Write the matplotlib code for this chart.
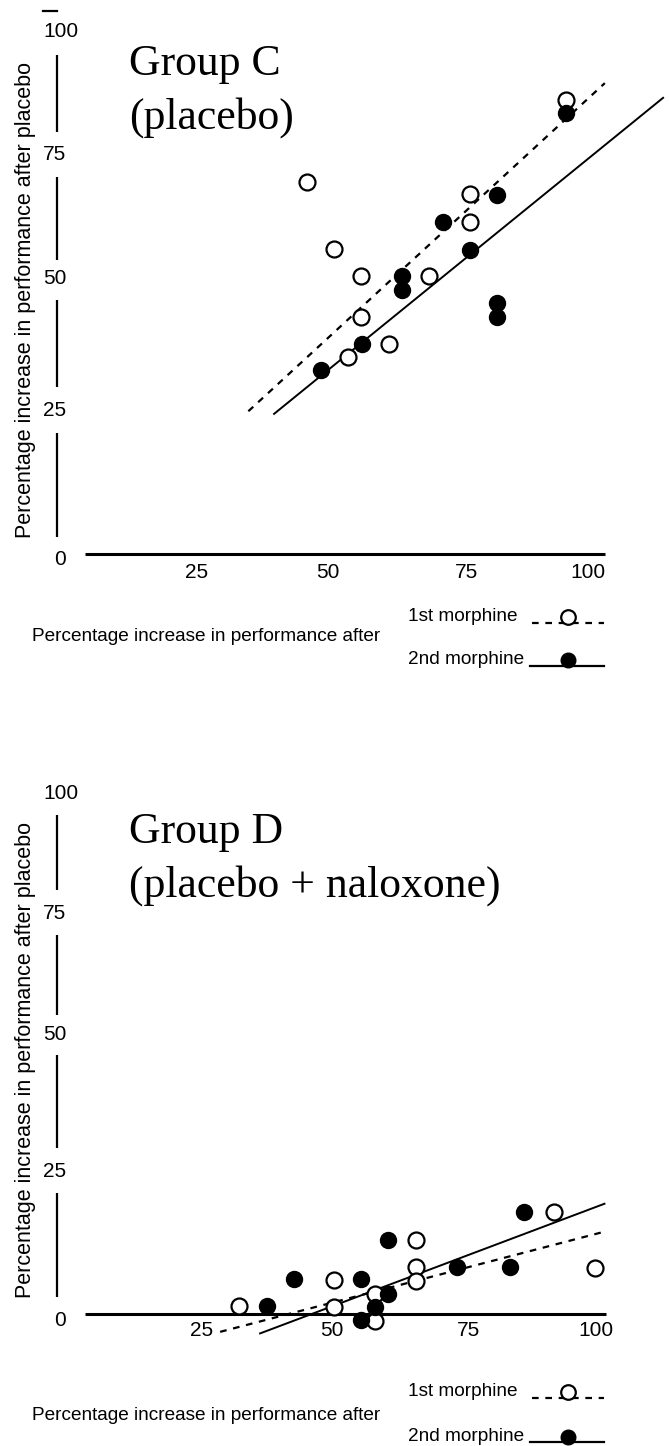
import matplotlib
matplotlib.use("Agg")
import matplotlib.pyplot as plt

# ── Data (percentage increase in performance) ─────────────────────────────────
# Group C (placebo): x = after morphine, y = after placebo
C_X_FIRST = [45.7, 51.0, 56.1, 56.1, 53.6, 61.3, 69.1, 76.8, 76.8, 95.1]
C_Y_FIRST = [70.7, 57.9, 52.8, 45.0, 37.3, 39.9, 52.8, 68.3, 63.0, 86.3]
C_X_SECOND = [48.4, 56.2, 63.9, 63.9, 71.7, 76.9, 82.0, 82.0, 82.0, 95.1]
C_Y_SECOND = [34.9, 39.8, 52.8, 50.1, 63.1, 57.8, 68.2, 47.7, 44.9, 83.8]
C_FIT_FIRST_X, C_FIT_FIRST_Y = [34.6, 102.5], [27.0, 89.5]
C_FIT_SECOND_X, C_FIT_SECOND_Y = [39.5, 113.6], [26.5, 86.7]

# Group D (placebo + naloxone)
D_X_FIRST = [32.2, 50.3, 50.3, 58.0, 58.0, 65.9, 65.9, 65.9, 92.1, 100.0]
D_Y_FIRST = [1.5, 6.5, 1.3, 3.9, -1.3, 14.1, 8.9, 6.3, 19.4, 8.8]
D_X_SECOND = [37.5, 42.7, 55.4, 58.0, 55.4, 60.6, 60.6, 73.8, 83.8, 86.5]
D_Y_SECOND = [1.5, 6.6, 6.6, 1.4, -1.1, 3.9, 14.1, 8.9, 8.9, 19.4]
D_FIT_FIRST_X, D_FIT_FIRST_Y = [28.6, 101.1], [-3.4, 15.5]
D_FIT_SECOND_X, D_FIT_SECOND_Y = [36.2, 101.8], [-3.7, 21.0]

TICKS = ["100", "75", "50", "25", "0"]
XTICKS = ["25", "50", "75", "100"]

# ── Layout (pixels) ───────────────────────────────────────────────────────────
W, H = 669, 1446
S = 5.25  # px per unit
SANS = ["Liberation Sans", "DejaVu Sans"]
SERIF = ["Liberation Serif", "DejaVu Serif"]

PANELS = [
    dict(rows=(0, 723), ox=66.7, oy=553,
         title=("Group C", "(placebo)"), title_y=(75, 128.5),
         xf=C_X_FIRST, yf=C_Y_FIRST, xs=C_X_SECOND, ys=C_Y_SECOND,
         fit1=(C_FIT_FIRST_X, C_FIT_FIRST_Y), fit2=(C_FIT_SECOND_X, C_FIT_SECOND_Y),
         tick_y=[31.7, 155, 278.3, 410, 560],
         vsegs=[(55, 131.7), (176.7, 260), (300, 386.7), (433.3, 536.7)],
         xaxis=(84.7, 605, 554), xtick_x=[196.7, 328, 466.5, 588], xtick_y=573,
         ylabel_y=300, leg_y=(616.7, 636.7, 660), dash=True),
    dict(rows=(723, 1446), ox=70, oy=1314,
         title=("Group D", "(placebo + naloxone)"), title_y=(843, 897),
         xf=D_X_FIRST, yf=D_Y_FIRST, xs=D_X_SECOND, ys=D_Y_SECOND,
         fit1=(D_FIT_FIRST_X, D_FIT_FIRST_Y), fit2=(D_FIT_SECOND_X, D_FIT_SECOND_Y),
         tick_y=[793.3, 913.3, 1035, 1171.7, 1320],
         vsegs=[(815, 890), (935, 1015), (1055, 1148), (1193, 1296.7)],
         xaxis=(85, 605.7, 1314), xtick_x=[202, 331.7, 468.3, 595.7], xtick_y=1331,
         ylabel_y=1060, leg_y=(1391.7, 1415, 1436.7), dash=False),
]

fig = plt.figure(figsize=(W / 100, H / 100), dpi=100)
fig.patch.set_facecolor("white")


def fx(px):
    return px / W


def fy(py):
    return 1 - py / H


for p in PANELS:
    r0, r1 = p["rows"]
    ax = fig.add_axes([0, 1 - r1 / H, 1, (r1 - r0) / H])
    ox, oy = p["ox"], p["oy"]
    ax.set_xlim(-ox / S, (W - ox) / S)
    ax.set_ylim((oy - r1) / S, (oy - r0) / S)
    ax.axis("off")

    dx = lambda px: (px - ox) / S
    dy = lambda py: (oy - py) / S

    # axes drawn by hand: broken y axis, plain x axis
    for a, b in p["vsegs"]:
        ax.plot([dx(57), dx(57)], [dy(a), dy(b)], color="black", lw=1.6,
                solid_capstyle="butt")
    if p["dash"]:
        ax.plot([dx(42.7), dx(57.3)], [dy(11), dy(11)], color="black", lw=1.6)
    x0, x1, yax = p["xaxis"]
    ax.plot([dx(x0), dx(x1)], [dy(yax), dy(yax)], color="black", lw=2.2,
            solid_capstyle="butt")

    # fitted lines and points
    ax.plot(*p["fit1"], color="black", lw=1.6, ls=(0, (3, 3)))
    ax.plot(*p["fit2"], color="black", lw=1.4)
    ax.plot(p["xf"], p["yf"], "o", ms=11.5, mfc="white", mec="black", mew=1.6,
            zorder=3)
    ax.plot(p["xs"], p["ys"], "o", ms=11.5, mfc="black", mec="black", mew=1.0,
            zorder=4)

    # legend symbols
    ly1, _, ly2 = p["leg_y"]
    ax.plot([dx(532), dx(604)], [dy(ly1 + 6.6), dy(ly1 + 6.6)], color="black",
            lw=1.6, ls=(0, (3, 3)))
    ax.plot([dx(567.5)], [dy(ly1)], "o", ms=10.5, mfc="white", mec="black", mew=1.6)
    ax.plot([dx(530), dx(604)], [dy(ly2 + 5.5), dy(ly2 + 5.5)], color="black",
            lw=1.6)
    ax.plot([dx(567.5)], [dy(ly2)], "o", ms=10.5, mfc="black", mec="black")

    # tick labels
    for lab, ty in zip(TICKS, p["tick_y"]):
        tx = 53.7 if lab == "0" else 43
        fig.text(fx(tx), fy(ty), lab, ha="left", va="center", fontsize=15,
                 family=SANS)
    for lab, tx in zip(XTICKS, p["xtick_x"]):
        fig.text(fx(tx), fy(p["xtick_y"]), lab, ha="center", va="center",
                 fontsize=15, family=SANS)

    # texts
    fig.text(fx(26), fy(p["ylabel_y"]),
             "Percentage increase in performance after placebo",
             rotation=90, ha="center", va="center", fontsize=15.5, family=SANS)
    fig.text(fx(129), fy(p["title_y"][0]), p["title"][0], ha="left",
             va="baseline", fontsize=31.5, family=SERIF)
    fig.text(fx(129), fy(p["title_y"][1]), p["title"][1], ha="left",
             va="baseline", fontsize=31.5, family=SERIF)
    l1, lm, l2 = p["leg_y"]
    fig.text(fx(407.6), fy(l1), "1st morphine", ha="left", va="center",
             fontsize=13.7, family=SANS)
    fig.text(fx(407.6), fy(l2), "2nd morphine", ha="left", va="center",
             fontsize=13.7, family=SANS)
    fig.text(fx(32), fy(lm), "Percentage increase in performance after",
             ha="left", va="center", fontsize=13.7, family=SANS)

fig.savefig("out.png", dpi=100, facecolor="white")
